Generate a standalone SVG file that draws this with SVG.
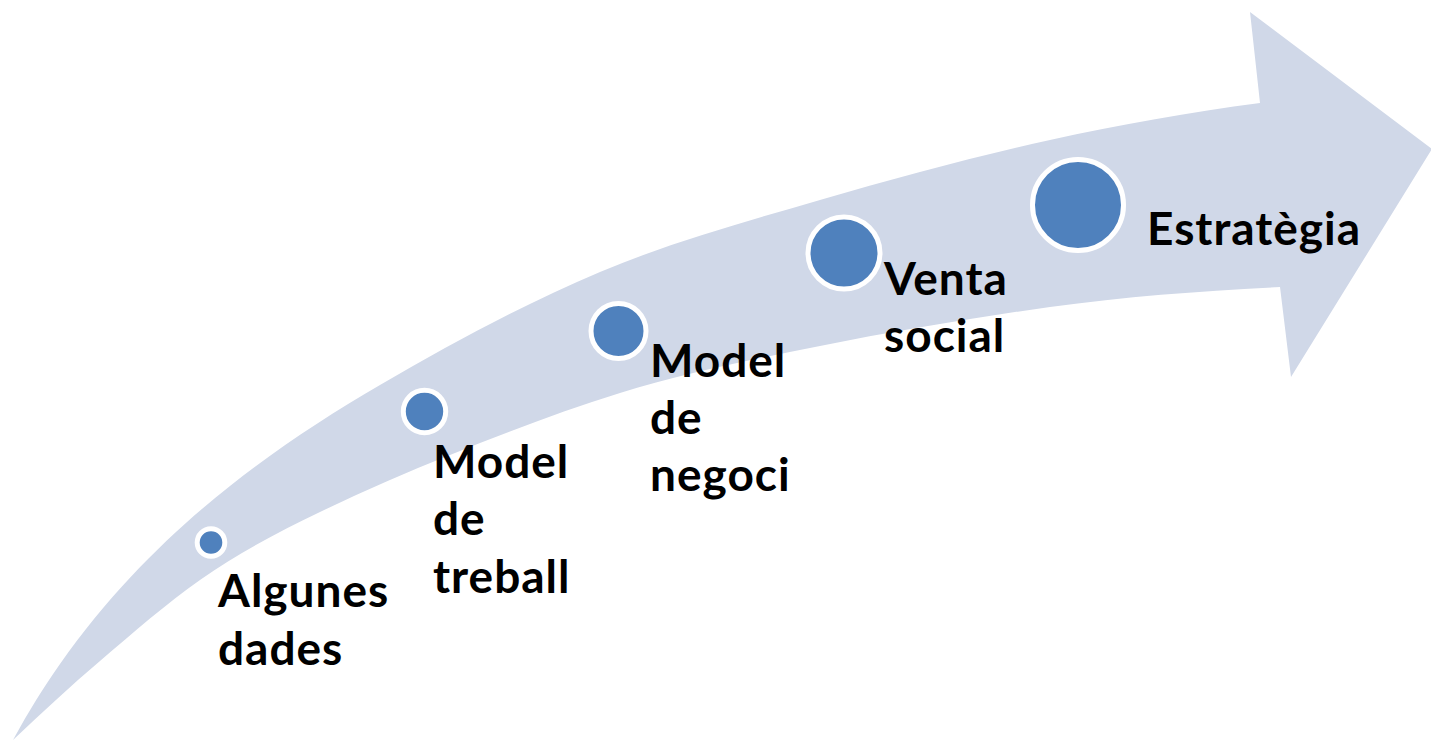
<svg xmlns="http://www.w3.org/2000/svg" width="1431" height="740" viewBox="0 0 1431 740">
<style>
.dot{fill:#4F81BD;stroke:#FFFFFF;stroke-width:5}
.lbl{font-family:Lato,"Open Sans","Liberation Sans",sans-serif;font-weight:bold;font-size:46px;letter-spacing:1px;fill:#000000}
</style>
<rect width="1431" height="740" fill="#FFFFFF"/>
<g id="connectors">
<path id="arrow" fill="#D0D8E8" d="M13,740 C28.67,711.2 44.33,686.4 60,664 C83.33,630.6 106.67,602.7 130,577.7 C163.33,542 196.67,512.3 230,486 C280,446.5 330,414 380,385 C453.33,342.5 526.67,302.8 600,272 C673.33,241.2 746.67,221.3 820,200 C896.67,177.8 973.33,156.9 1050,140 C1120,124.6 1190,112.1 1260,103 L1250,12 L1432,149 L1291,377 L1280,287 C1203.33,290.83 1126.67,296.27 1050,307 C973.33,317.73 896.67,330.67 820,346 C753.33,359.33 686.67,372.33 620,393 C563.33,410.57 506.67,432.33 450,455 C406.67,472.33 363.33,491.2 320,512 C280,531.2 240,552 200,580 C166.67,603.33 133.33,632.67 100,661 C71,685.65 42,712.45 13,740 Z"/>
</g>
<g id="node1"><circle class="dot" cx="211" cy="542.5" r="13.8"/><text class="lbl" x="218" y="607">Algunes</text><text class="lbl" x="218" y="665">dades</text></g>
<g id="node2"><circle class="dot" cx="424.5" cy="411.5" r="21.2"/><text class="lbl" x="433" y="478">Model</text><text class="lbl" x="433" y="535">de</text><text class="lbl" x="433" y="593">treball</text></g>
<g id="node3"><circle class="dot" cx="618.5" cy="331" r="27.5"/><text class="lbl" x="650" y="377">Model</text><text class="lbl" x="650" y="434">de</text><text class="lbl" x="650" y="491">negoci</text></g>
<g id="node4"><circle class="dot" cx="844" cy="253" r="36"/><text class="lbl" x="884" y="295">Venta</text><text class="lbl" x="884" y="352">social</text></g>
<g id="node5"><circle class="dot" cx="1078" cy="205" r="45.5"/><text class="lbl" x="1147" y="245">Estratègia</text></g>
</svg>
